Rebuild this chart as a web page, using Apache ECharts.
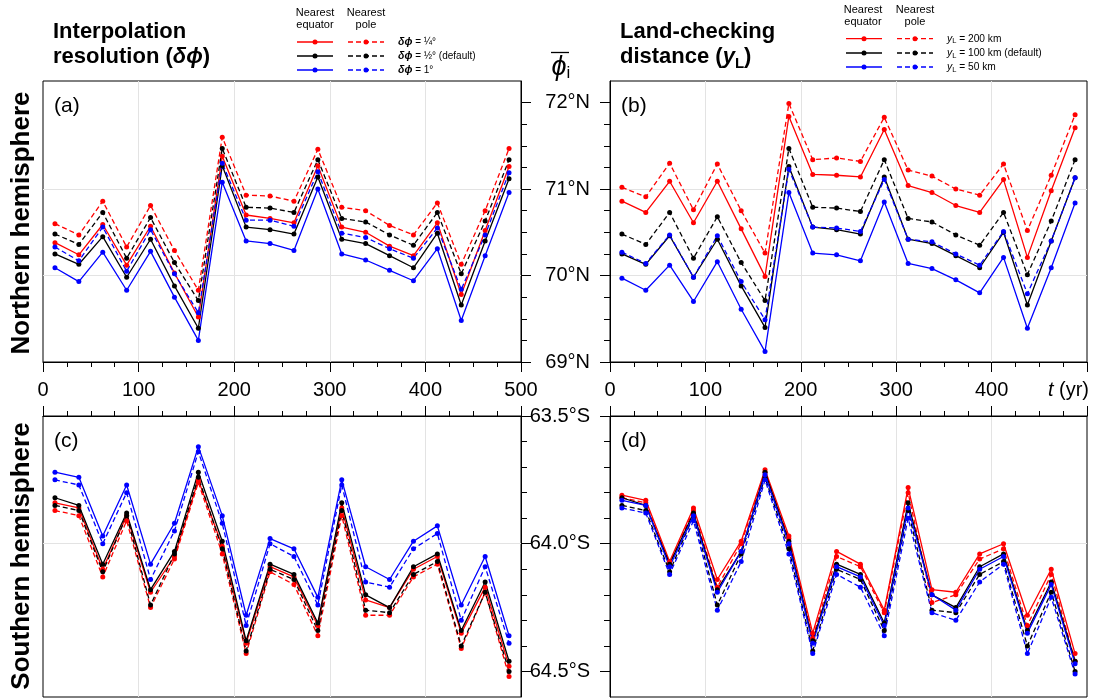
<!DOCTYPE html>
<html><head><meta charset="utf-8">
<script src="https://cdn.jsdelivr.net/npm/echarts@6/dist/echarts.min.js"></script>
<style>html,body{margin:0;padding:0;background:#fff}#c{width:1096px;height:698px}</style>
</head><body><div id="c"></div>
<script>
// ---------------- data ----------------
const years = [12.5,37.5,62.5,87.5,112.5,137.5,162.5,187.5,212.5,237.5,262.5,287.5,312.5,337.5,362.5,387.5,412.5,437.5,462.5,487.5];

// (a) Northern hemisphere, interpolation resolution
const aRedSolid    = [70.38,70.24,70.59,70.12,70.57,70.03,69.52,71.38,70.70,70.66,70.61,71.27,70.56,70.50,70.34,70.23,70.61,69.78,70.52,71.26];
const aRedDashed   = [70.60,70.47,70.86,70.33,70.81,70.29,69.83,71.60,70.93,70.92,70.86,71.46,70.79,70.75,70.58,70.47,70.84,70.13,70.75,71.47];
const aBlackSolid  = [70.25,70.13,70.45,69.98,70.42,69.88,69.39,71.27,70.56,70.53,70.48,71.14,70.42,70.37,70.23,70.09,70.49,69.66,70.40,71.12];
const aBlackDashed = [70.48,70.36,70.73,70.20,70.67,70.15,69.71,71.47,70.79,70.78,70.73,71.34,70.66,70.62,70.47,70.35,70.73,70.02,70.63,71.34];
const aBlueSolid   = [70.09,69.93,70.27,69.83,70.28,69.75,69.25,71.08,70.40,70.37,70.29,71.00,70.25,70.18,70.06,69.94,70.31,69.48,70.23,70.96];
const aBlueDashed  = [70.33,70.17,70.56,70.05,70.53,70.02,69.57,71.30,70.64,70.64,70.57,71.20,70.49,70.44,70.31,70.20,70.55,69.84,70.47,71.19];

// (b) Northern hemisphere, land-checking distance
const bRedSolid    = [70.86,70.73,71.09,70.61,71.09,70.54,69.99,71.84,71.17,71.16,71.14,71.69,71.04,70.96,70.81,70.73,71.11,70.21,70.98,71.71];
const bRedDashed   = [71.02,70.91,71.30,70.76,71.29,70.75,70.26,71.99,71.34,71.36,71.32,71.83,71.22,71.15,71.00,70.93,71.29,70.52,71.16,71.86];
const bBlackSolid  = [70.25,70.13,70.46,69.98,70.42,69.88,69.40,71.26,70.56,70.53,70.48,71.14,70.42,70.37,70.23,70.09,70.50,69.66,70.40,71.13];
const bBlackDashed = [70.48,70.36,70.73,70.20,70.68,70.15,69.71,71.47,70.79,70.78,70.74,71.34,70.66,70.62,70.47,70.35,70.73,70.01,70.63,71.34];
const bBlueSolid   = [69.97,69.83,70.12,69.70,70.16,69.61,69.12,70.96,70.26,70.24,70.17,70.85,70.14,70.08,69.95,69.80,70.21,69.39,70.09,70.84];
const bBlueDashed  = [70.27,70.14,70.47,69.98,70.46,69.93,69.49,71.23,70.56,70.55,70.51,71.11,70.42,70.39,70.25,70.12,70.51,69.79,70.40,71.13];

// (c) Southern hemisphere, interpolation resolution
const cRedSolid    = [63.84,63.86,64.10,63.89,64.19,64.05,63.75,64.01,64.39,64.09,64.13,64.32,63.86,64.22,64.25,64.10,64.05,64.35,64.17,64.48];
const cRedDashed   = [63.87,63.89,64.13,63.91,64.25,64.06,63.76,64.04,64.43,64.11,64.16,64.36,63.89,64.28,64.28,64.13,64.08,64.41,64.19,64.52];
const cBlackSolid  = [63.82,63.85,64.08,63.88,64.18,64.03,63.72,63.99,64.38,64.08,64.12,64.31,63.84,64.20,64.25,64.09,64.04,64.34,64.15,64.46];
const cBlackDashed = [63.85,63.87,64.11,63.89,64.24,64.04,63.74,64.02,64.42,64.10,64.14,64.34,63.87,64.26,64.27,64.12,64.07,64.40,64.19,64.50];
const cBlueSolid   = [63.72,63.74,63.97,63.77,64.08,63.92,63.62,63.89,64.28,63.98,64.02,64.21,63.75,64.09,64.14,63.99,63.93,64.24,64.05,64.36];
const cBlueDashed  = [63.75,63.77,64.00,63.80,64.14,63.95,63.64,63.92,64.32,64.00,64.05,64.24,63.77,64.15,64.17,64.02,63.96,64.30,64.09,64.39];

// (d) Southern hemisphere, land-checking distance
const dRedSolid    = [63.81,63.83,64.07,63.86,64.14,63.99,63.71,63.97,64.35,64.03,64.08,64.26,63.78,64.18,64.19,64.04,64.00,64.28,64.10,64.43];
const dRedDashed   = [63.82,63.84,64.08,63.87,64.17,64.00,63.72,63.98,64.37,64.05,64.09,64.27,63.80,64.23,64.20,64.06,64.02,64.32,64.12,64.46];
const dBlackSolid  = [63.82,63.85,64.08,63.88,64.18,64.03,63.72,63.99,64.38,64.08,64.12,64.31,63.84,64.20,64.25,64.09,64.04,64.34,64.15,64.46];
const dBlackDashed = [63.85,63.87,64.11,63.89,64.24,64.04,63.74,64.02,64.42,64.10,64.14,64.34,63.87,64.26,64.27,64.12,64.07,64.40,64.19,64.50];
const dBlueSolid   = [63.83,63.85,64.09,63.89,64.19,64.03,63.73,64.00,64.39,64.09,64.13,64.32,63.86,64.20,64.26,64.10,64.05,64.35,64.16,64.47];
const dBlueDashed  = [63.86,63.88,64.12,63.91,64.26,64.07,63.75,64.04,64.43,64.12,64.17,64.36,63.90,64.27,64.30,64.15,64.08,64.43,64.21,64.51];

// tick labels
const xTicks = [0,100,200,300,400,500];
const northTicks = [69,70,71,72];
const northMinor = [69.25,69.5,69.75,70.25,70.5,70.75,71.25,71.5,71.75,72];
const southTicks = [63.5,64.0,64.5];
const southMinor = [63.6,63.7,63.8,63.9,64.1,64.2,64.3,64.4];
const legendA = ['¼°','½° (default)','1°'];
const legendB = ['200 km','100 km (default)','50 km'];

// ---------------- chart ----------------
const FF = "'Liberation Sans', Arial, Helvetica, sans-serif";
const RED = '#ff0000', BLACK = '#000000', BLUE = '#0000ff';
const GRID_C = '#e3e3e3';

const rects = [
  {left:43, top:81, width:478, height:281},
  {left:610, top:81, width:477, height:281},
  {left:43, top:416, width:478, height:281},
  {left:610, top:416, width:477, height:281}
];
const grids = rects.map(g => Object.assign({show:true, borderColor:'#000', borderWidth:1, backgroundColor:'transparent', containLabel:false}, g))
  .concat(rects.map(g => Object.assign({show:false, containLabel:false}, g)));

function xAx(g, pos, showLabels, fmt) {
  return {type:'value', gridIndex:g, position:pos, min:0, max:500, interval:100,
    axisLine:{show:true, onZero:false, lineStyle:{color:'#000', width:1}},
    axisTick:{show:true, inside:false, length:10, lineStyle:{color:'#000', width:1}},
    minorTick:{show:true, splitNumber:4, length:5, lineStyle:{color:'#000', width:1}},
    splitLine:{show:true, showMinLine:false, showMaxLine:false, lineStyle:{color:GRID_C, width:1}},
    axisLabel:{show:showLabels, margin:18, fontSize:20, color:'#000', fontFamily:FF,
      customValues: xTicks, formatter: fmt || (v => String(v))}
  };
}
function xHidden(g) {
  return {type:'value', gridIndex:g, min:0, max:500, show:false};
}
function yMain(g, pos, north, showLabels) {
  return {type:'value', gridIndex:g, position:pos,
    min: north ? 69 : 63.5, max: north ? 72.25 : 64.6, interval: north ? 1 : 0.5, inverse: !north,
    axisLine:{show:true, onZero:false, lineStyle:{color:'#000', width:1}},
    axisTick:{show:true, inside:false, length:10, customValues: north ? northTicks : southTicks, lineStyle:{color:'#000', width:1}},
    minorTick:{show:false},
    splitLine:{show:true, showMinLine:false, showMaxLine:false, lineStyle:{color:GRID_C, width:1}},
    axisLabel:{show:showLabels, customValues: north ? northTicks : southTicks, margin:20, fontSize:20, color:'#000', fontFamily:FF, align:'right',
      formatter: north ? (v => v + '°N') : (v => v.toFixed(1) + '°S')}
  };
}
function yMinor(g, pos, north) {
  return {type:'value', gridIndex:g, position:pos,
    min: north ? 69 : 63.5, max: north ? 72.25 : 64.6, interval: north ? 0.25 : 0.1, inverse: !north,
    axisLine:{show:false, onZero:false}, axisLabel:{show:false}, splitLine:{show:false},
    axisTick:{show:true, inside:false, length:6, customValues: north ? northMinor : southMinor, lineStyle:{color:'#000', width:1}}
  };
}

const xAxes = [
  xAx(0,'bottom',true),
  xAx(1,'bottom',true, v => v === 500 ? '' : String(v)),
  xAx(2,'top',false),
  xAx(3,'top',false),
  xHidden(4), xHidden(5), xHidden(6), xHidden(7)
];
const yAxes = [
  yMain(0,'right',true,false), yMain(1,'left',true,true), yMain(2,'right',false,false), yMain(3,'left',false,true),
  yMinor(4,'right',true), yMinor(5,'left',true), yMinor(6,'right',false), yMinor(7,'left',false)
];

const panelSets = [
  [aRedSolid,aRedDashed,aBlackSolid,aBlackDashed,aBlueSolid,aBlueDashed],
  [bRedSolid,bRedDashed,bBlackSolid,bBlackDashed,bBlueSolid,bBlueDashed],
  [cRedSolid,cRedDashed,cBlackSolid,cBlackDashed,cBlueSolid,cBlueDashed],
  [dRedSolid,dRedDashed,dBlackSolid,dBlackDashed,dBlueSolid,dBlueDashed]
];
const styles = [[RED,false],[RED,true],[BLACK,false],[BLACK,true],[BLUE,false],[BLUE,true]];
const series = [];
panelSets.forEach((sets, p) => {
  sets.forEach((vals, k) => {
    const [col, dashed] = styles[k];
    series.push({type:'line', xAxisIndex:p, yAxisIndex:p, data: years.map((t,i)=>[t, vals[i]]),
      symbol:'circle', symbolSize:5, showSymbol:true, silent:true, z: 3,
      lineStyle:{color:col, width:1.3, type: dashed ? [5,3] : 'solid'},
      itemStyle:{color:col}});
  });
});

// ---------------- graphics (titles, legends, annotations) ----------------
const G = [];
function T(x, y, text, size, o) {
  G.push({type:'text', z:10, style:Object.assign({text, x, y, fontSize:size, fontFamily:FF, fill:'#000', align:'left', verticalAlign:'middle'}, o||{})});
}
function L(x1,y1,x2,y2,col,dash) {
  G.push({type:'line', z:10, shape:{x1,y1,x2,y2}, style:{stroke:col, lineWidth:1.3, lineDash: dash ? [5,3] : null}});
}
function C(cx,cy,col) { G.push({type:'circle', z:11, shape:{cx,cy,r:2.5}, style:{fill:col}}); }

// Titles
T(53, 32, 'Interpolation', 22, {fontWeight:'bold'});
T(53, 57, 'resolution ({bi|δϕ})', 22, {fontWeight:'bold',
  rich:{bi:{fontSize:22, fontFamily:FF, fontWeight:'bold', fontStyle:'italic'}}});
T(620, 32, 'Land-checking', 22, {fontWeight:'bold'});
T(620, 57, 'distance ({i|y}{s|L})', 22, {fontWeight:'bold', lineHeight:28,
  rich:{i:{fontSize:22, fontFamily:FF, fontWeight:'bold', fontStyle:'italic', lineHeight:28},
        s:{fontSize:15, fontFamily:FF, fontWeight:'bold', lineHeight:14, verticalAlign:'bottom'}}});

// phi-bar-i symbol
T(561, 67, '{p|ϕ}{s|i}', 26, {align:'center', lineHeight:30,
  rich:{p:{fontSize:27, fontFamily:FF, fontStyle:'italic', lineHeight:30},
        s:{fontSize:17, fontFamily:FF, lineHeight:16, verticalAlign:'bottom'}}});
L(551, 52.5, 569, 52.5, '#000', false);

// Left hemisphere labels
G.push({type:'text', z:10, x:22, y:223, rotation:Math.PI/2,
  style:{text:'Northern hemisphere', x:0, y:0, fontSize:26, fontWeight:'bold', fontFamily:FF, fill:'#000', align:'center', verticalAlign:'middle'}});
G.push({type:'text', z:10, x:22, y:556, rotation:Math.PI/2,
  style:{text:'Southern hemisphere', x:0, y:0, fontSize:26, fontWeight:'bold', fontFamily:FF, fill:'#000', align:'center', verticalAlign:'middle'}});

// Panel letters
T(54, 106, '(a)', 21);
T(621, 106, '(b)', 21);
T(54, 441, '(c)', 21);
T(621, 441, '(d)', 21);

// t (yr) axis label
T(1089, 390, '{i|t} (yr)', 20, {align:'right', rich:{i:{fontSize:20, fontFamily:FF, fontStyle:'italic'}}});

// Legend (a)
T(315, 19, 'Nearest\nequator', 11, {align:'center', lineHeight:12.5});
T(366, 19, 'Nearest\npole', 11, {align:'center', lineHeight:12.5});
const cols = [RED, BLACK, BLUE];
[42, 56, 70].forEach((y, i) => {
  L(297, y, 333, y, cols[i], false); C(315, y, cols[i]);
  L(348, y, 384, y, cols[i], true); C(366, y, cols[i]);
  T(398, y, '{b|δϕ} = ' + legendA[i], 10, {rich:{b:{fontSize:10.5, fontFamily:FF, fontWeight:'bold', fontStyle:'italic'}}});
});
// Legend (b)
T(863, 16, 'Nearest\nequator', 11, {align:'center', lineHeight:12.5});
T(915, 16, 'Nearest\npole', 11, {align:'center', lineHeight:12.5});
[38.7, 53, 67].forEach((y, i) => {
  L(846, y, 882, y, cols[i], false); C(864, y, cols[i]);
  L(897, y, 933, y, cols[i], true); C(915, y, cols[i]);
  T(947, y, '{i|y}{s|L} = ' + legendB[i], 10.2, {lineHeight:13,
    rich:{i:{fontSize:10.5, fontFamily:FF, fontStyle:'italic', lineHeight:13},
          s:{fontSize:7.5, fontFamily:FF, lineHeight:8, verticalAlign:'bottom'}}});
});

const chart = echarts.init(document.getElementById('c'), null, {renderer:'canvas'});
chart.setOption({
  animation:false,
  backgroundColor:'#fff',
  grid: grids,
  xAxis: xAxes,
  yAxis: yAxes,
  series: series,
  graphic: G
});
</script>
</body></html>
